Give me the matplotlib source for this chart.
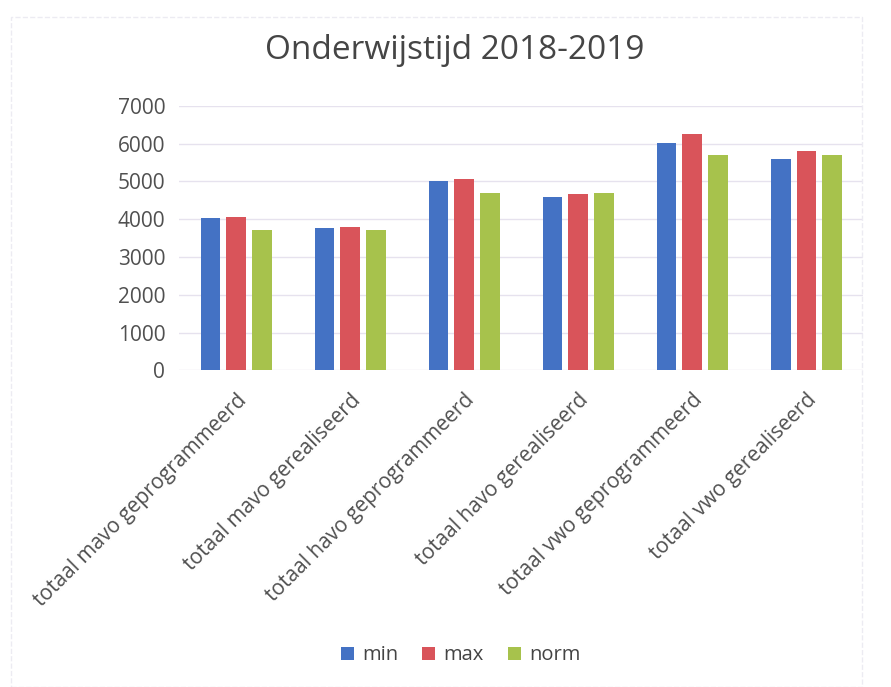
import numpy as np
import matplotlib.pyplot as plt
from matplotlib.patches import Rectangle

plt.rcParams['font.family'] = ['Open Sans', 'DejaVu Sans']

categories = [
    'totaal mavo geprogrammeerd',
    'totaal mavo gerealiseerd',
    'totaal havo geprogrammeerd',
    'totaal havo gerealiseerd',
    'totaal vwo geprogrammeerd',
    'totaal vwo gerealiseerd',
]
series_names = ['min', 'max', 'norm']
min_vals = [4025, 3755, 5000, 4595, 6015, 5590]
max_vals = [4060, 3790, 5050, 4655, 6250, 5795]
norm_vals = [3700, 3700, 4700, 4700, 5700, 5700]
colors = ['#4472C4', '#D9545A', '#A7C24C']

fig = plt.figure(figsize=(8.91, 6.87), dpi=100)
ax = fig.add_axes([0.201, 0.461, 0.768, 0.385])

x = np.arange(len(categories))
step = 0.225
width = 0.172
for i, (name, vals) in enumerate(zip(series_names, [min_vals, max_vals, norm_vals])):
    ax.bar(x + (i - 1) * step, vals, width, color=colors[i], label=name, zorder=3)

ax.set_xlim(-0.5, len(categories) - 0.5)
ax.set_ylim(0, 7000)
ax.set_yticks(range(0, 7001, 1000))
ax.grid(axis='y', color='#e6e2ee', linewidth=1, zorder=0)
for s in ax.spines.values():
    s.set_visible(False)
ax.tick_params(axis='y', length=0, labelsize=15, colors='#505050', pad=10)
ax.set_xticks(x)
ax.set_xticklabels(categories, rotation=45, ha='right', rotation_mode='anchor',
                   fontsize=15, color='#505050')
ax.tick_params(axis='x', length=0, pad=14)

fig.text(0.51, 0.927, 'Onderwijstijd 2018-2019', ha='center', va='center',
         fontsize=24, color='#454545')

leg = fig.legend(loc='center', bbox_to_anchor=(0.517, 0.046), ncol=3, frameon=False,
                 fontsize=14.5, handlelength=0.65, handleheight=0.65, handletextpad=0.4,
                 columnspacing=1.2)
for t in leg.get_texts():
    t.set_color('#444444')

# faint frame of the scanned chart box
fig.patches.append(Rectangle((0.012, 0.0), 0.955, 0.975, transform=fig.transFigure,
                             fill=False, edgecolor='#ecebf2', linewidth=1, linestyle='--'))

fig.savefig('out.png', dpi=100)
